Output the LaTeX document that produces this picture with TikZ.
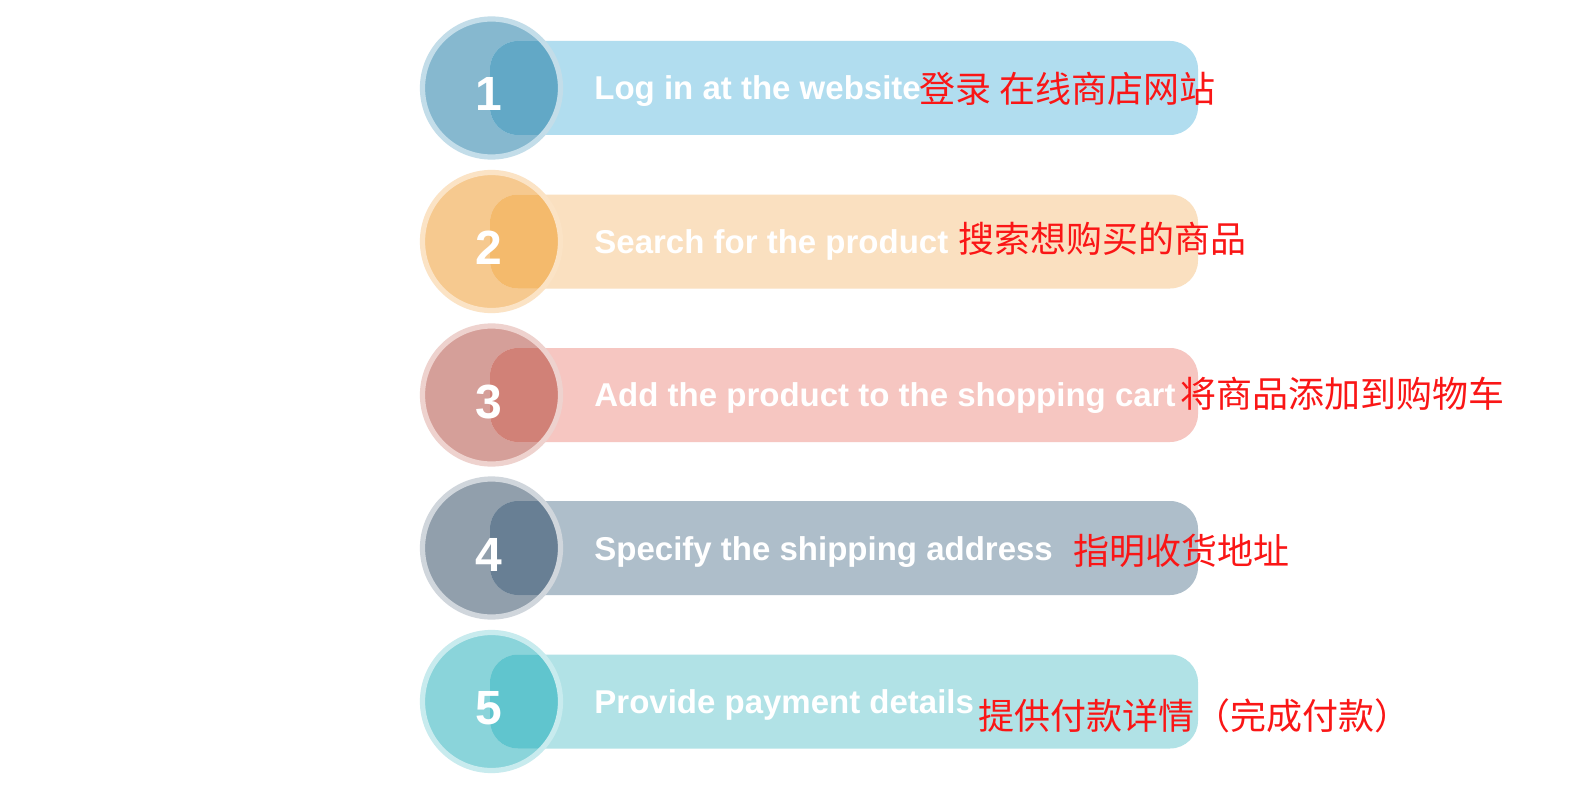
\documentclass[tikz,border=0pt]{standalone}
\usepackage{fontspec}
\setmainfont{Liberation Sans}
\newfontfamily\cjk{Noto Sans CJK SC}
\definecolor{cA1}{HTML}{86B8CF}\definecolor{bA1}{HTML}{B1DDEF}\definecolor{oA1}{HTML}{62A8C6}\definecolor{rA1}{HTML}{C3DDE9}
\definecolor{cA2}{HTML}{F6C98F}\definecolor{bA2}{HTML}{FAE0C0}\definecolor{oA2}{HTML}{F4BA6C}\definecolor{rA2}{HTML}{FBE3C5}
\definecolor{cA3}{HTML}{D59F99}\definecolor{bA3}{HTML}{F6C6C1}\definecolor{oA3}{HTML}{D18177}\definecolor{rA3}{HTML}{EED2CE}
\definecolor{cA4}{HTML}{919FAC}\definecolor{bA4}{HTML}{AEBECA}\definecolor{oA4}{HTML}{687F94}\definecolor{rA4}{HTML}{D0D6DC}
\definecolor{cA5}{HTML}{8AD4DA}\definecolor{bA5}{HTML}{B1E2E6}\definecolor{oA5}{HTML}{60C5CE}\definecolor{rA5}{HTML}{C8EBEE}
\definecolor{cnred}{RGB}{250,22,22}
\tikzset{
  entext/.style={anchor=base west, inner sep=0pt, text=white, font=\bfseries\fontsize{16.5}{18}\selectfont},
  digit/.style={anchor=base, inner sep=0pt, text=white, font=\bfseries\fontsize{24}{26}\selectfont},
  cntext/.style={anchor=base west, inner sep=0pt, text=cnred, font=\cjk\fontsize{18}{20}\selectfont},
  barshape/.style={rounded corners=14pt},
}
\newcommand\drawrow[2]{% #1 index, #2 centre y
  \fill[cA#1] (491.5,#2) circle (33.5pt);
  \fill[bA#1, barshape] (490,#2-47) rectangle (1198,#2+47);
  \begin{scope}
    \clip (491.5,#2) circle (33.5pt);
    \fill[oA#1, barshape] (490,#2-47) rectangle (1198,#2+47);
  \end{scope}
  \draw[rA#1, line width=2.6pt] (491.5,#2) circle (34.5pt);
  \node[circle, minimum size=71pt, inner sep=0pt] (c#1) at (491.5,#2) {};
  \node[digit] (d#1) at (489,#2+23) {#1};
}
\begin{document}
\begin{tikzpicture}[x=0.5pt,y=-0.5pt]
\useasboundingbox[fill=white] (0,0) rectangle (1590,797);
\drawrow{1}{88}
\drawrow{2}{241.5}
\drawrow{3}{395}
\drawrow{4}{548}
\drawrow{5}{701.5}
\node[entext] (e1) at (594,99.5) {Log in at the website};
\node[entext] (e2) at (594,253) {Search for the product};
\node[entext] (e3) at (594,406.5) {Add the product to the shopping cart};
\node[entext] (e4) at (594,560) {Specify the shipping address};
\node[entext] (e5) at (594,713) {Provide payment details};
\node[cntext] (z1) at (919,103) {登录 在线商店网站};
\node[cntext] (z2) at (958,252) {搜索想购买的商品};
\node[cntext] (z3) at (1180,407.5) {将商品添加到购物车};
\node[cntext] (z4) at (1073,564.5) {指明收货地址};
\node[cntext] (z5) at (978,729) {提供付款详情（完成付款）};
\end{tikzpicture}
\end{document}
